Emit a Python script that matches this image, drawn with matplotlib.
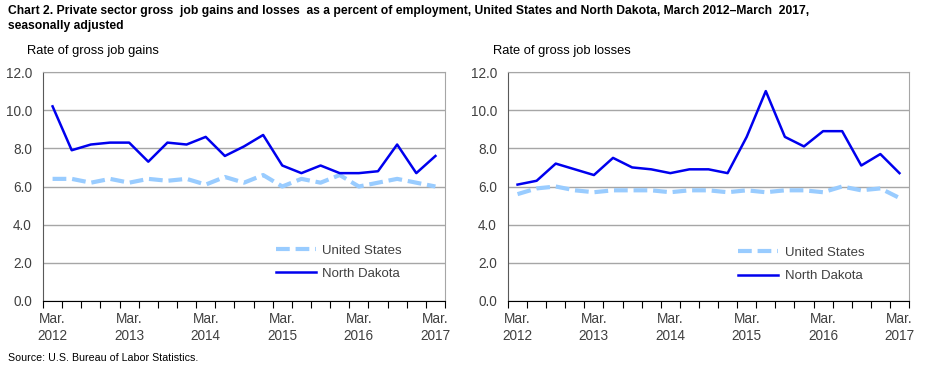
import matplotlib
matplotlib.use("Agg")
import matplotlib.pyplot as plt
from matplotlib.lines import Line2D

plt.rcParams['font.family'] = ['Liberation Sans', 'DejaVu Sans']

quarters = list(range(21))
tick_labels = ["Mar.\n2012", "Mar.\n2013", "Mar.\n2014", "Mar.\n2015", "Mar.\n2016", "Mar.\n2017"]

us_gains = [6.4, 6.4, 6.2, 6.4, 6.2, 6.4, 6.3, 6.4, 6.1, 6.5, 6.2, 6.6, 6.0, 6.4, 6.2, 6.6, 6.0, 6.2, 6.4, 6.2, 6.0]
nd_gains = [10.2, 7.9, 8.2, 8.3, 8.3, 7.3, 8.3, 8.2, 8.6, 7.6, 8.1, 8.7, 7.1, 6.7, 7.1, 6.7, 6.7, 6.8, 8.2, 6.7, 7.6]
us_losses = [5.6, 5.9, 6.0, 5.8, 5.7, 5.8, 5.8, 5.8, 5.7, 5.8, 5.8, 5.7, 5.8, 5.7, 5.8, 5.8, 5.7, 6.0, 5.8, 5.9, 5.4]
nd_losses = [6.1, 6.3, 7.2, 6.9, 6.6, 7.5, 7.0, 6.9, 6.7, 6.9, 6.9, 6.7, 8.6, 11.0, 8.6, 8.1, 8.9, 8.9, 7.1, 7.7, 6.7]

US_COLOR = "#99CCFF"
ND_COLOR = "#0000EE"
TXT = "#404040"
DASH = (0, (3.3, 1.4))

fig = plt.figure(figsize=(9.3, 3.72), dpi=100)

def panel(rect, us, nd, subtitle, sub_x, leg_anchor):
    ax = fig.add_axes(rect)
    ax.plot(quarters, us, color=US_COLOR, lw=3, ls=DASH, zorder=3)
    ax.plot(quarters, nd, color=ND_COLOR, lw=1.8, zorder=4)
    ax.set_xlim(-0.5, 20.5)
    ax.set_ylim(0, 12)
    ax.set_yticks([0, 2, 4, 6, 8, 10, 12])
    ax.set_yticklabels([f"{v:.1f}" for v in [0, 2, 4, 6, 8, 10, 12]], color=TXT, fontsize=9.8)
    ax.yaxis.grid(True, color="#A6A6A6", lw=1)
    ax.set_axisbelow(True)
    ax.tick_params(axis='y', length=0, pad=8)
    ax.set_xticks([i - 0.5 for i in range(22)])
    ax.set_xticklabels([])
    ax.tick_params(axis='x', which='major', length=5, direction='out', color='black')
    ax.set_xticks(list(range(0, 21, 4)), minor=True)
    ax.set_xticklabels(tick_labels, minor=True, color=TXT, fontsize=9.8, linespacing=1.25)
    ax.tick_params(axis='x', which='minor', length=0, pad=8)
    for s in ['top', 'right']:
        ax.spines[s].set_color("#A6A6A6")
    ax.spines['bottom'].set_color('black')
    ax.spines['left'].set_color('#595959')
    fig.text(sub_x, 1 - 51 / 372, subtitle, fontsize=9.3, color='black', va='center')
    leg = ax.legend(handles=[Line2D([], [], color=US_COLOR, lw=3, ls=DASH),
                             Line2D([], [], color=ND_COLOR, lw=1.8)],
                    labels=["United States", "North Dakota"],
                    loc='lower left', bbox_to_anchor=leg_anchor, frameon=False,
                    fontsize=9.5, handlelength=3.0, labelspacing=0.85, handletextpad=0.5)
    for t in leg.get_texts():
        t.set_color(TXT)
    return ax

panel([43 / 930, 1 - 301 / 372, 402 / 930, 229 / 372], us_gains, nd_gains,
      "Rate of gross job gains", 27 / 930, (0.55, 0.04))
panel([508 / 930, 1 - 301 / 372, 401 / 930, 229 / 372], us_losses, nd_losses,
      "Rate of gross job losses", 493 / 930, (0.545, 0.03))

fig.text(8 / 930, 1 - 11 / 372,
         "Chart 2. Private sector gross  job gains and losses  as a percent of employment, United States and North Dakota, March 2012\u2013March  2017,",
         fontsize=8.7, fontweight='bold', va='center')
fig.text(8 / 930, 1 - 26 / 372, "seasonally adjusted", fontsize=8.7, fontweight='bold', va='center')
fig.text(8 / 930, 1 - 358 / 372, "Source: U.S. Bureau of Labor Statistics.", fontsize=7.7, va='center')

fig.savefig("out.png", dpi=100)
